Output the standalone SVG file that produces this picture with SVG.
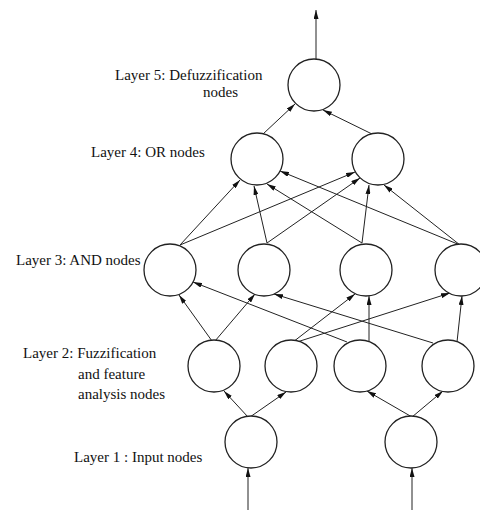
<svg xmlns="http://www.w3.org/2000/svg" width="480" height="510" viewBox="0 0 480 510">
  <style>
    .node { fill: #ffffff; stroke: #222222; stroke-width: 1.3; }
    .edge { fill: none; stroke: #222222; stroke-width: 1; marker-end: url(#arrow); }
    .lbl { font-family: "Liberation Serif", "Times New Roman", serif; font-size: 15px; fill: #111111; }
  </style>
  <defs>
    <marker id="arrow" markerUnits="userSpaceOnUse" markerWidth="9" markerHeight="5" refX="9" refY="2.5" orient="auto">
      <path d="M0,0 L9,2.5 L0,5 z" fill="#111111"/>
    </marker>
  </defs>
  <rect width="480" height="510" fill="#ffffff"/>

  <g id="connectors">
    <!-- output -->
    <line class="edge" x1="316" y1="59" x2="316" y2="10"/>
    <!-- inputs -->
    <line class="edge" x1="248" y1="510" x2="248" y2="468"/>
    <line class="edge" x1="412" y1="510" x2="412" y2="468"/>
    <!-- L4 -> L5 -->
    <line class="edge" x1="263" y1="134" x2="295" y2="104"/>
    <line class="edge" x1="372" y1="134" x2="323" y2="110"/>
    <!-- L3 -> L4 -->
    <line class="edge" x1="180" y1="245" x2="240" y2="180"/>
    <line class="edge" x1="180" y1="245" x2="355" y2="172"/>
    <line class="edge" x1="267" y1="243" x2="254" y2="186"/>
    <line class="edge" x1="267" y1="243" x2="360" y2="178"/>
    <line class="edge" x1="362" y1="243" x2="267" y2="184"/>
    <line class="edge" x1="362" y1="243" x2="369" y2="185"/>
    <line class="edge" x1="460" y1="245" x2="280" y2="171"/>
    <line class="edge" x1="460" y1="245" x2="384" y2="185"/>
    <!-- L2 -> L3 -->
    <line class="edge" x1="212" y1="341" x2="179" y2="295"/>
    <line class="edge" x1="347" y1="342" x2="193" y2="282"/>
    <line class="edge" x1="215" y1="341" x2="255" y2="294"/>
    <line class="edge" x1="433" y1="343" x2="274" y2="294"/>
    <line class="edge" x1="293" y1="342" x2="355" y2="294"/>
    <line class="edge" x1="369" y1="341" x2="369" y2="296"/>
    <line class="edge" x1="297" y1="342" x2="450" y2="293"/>
    <line class="edge" x1="457" y1="342" x2="462" y2="296"/>
    <!-- L1 -> L2 -->
    <line class="edge" x1="248" y1="417" x2="224" y2="391"/>
    <line class="edge" x1="250" y1="417" x2="286" y2="392"/>
    <line class="edge" x1="412" y1="417" x2="367" y2="391"/>
    <line class="edge" x1="412" y1="417" x2="443" y2="391"/>
  </g>

  <g id="layer5">
    <circle id="n5" class="node" cx="314" cy="85" r="26"/>
  </g>
  <g id="layer4">
    <circle id="n4a" class="node" cx="257" cy="159" r="26"/>
    <circle id="n4b" class="node" cx="378" cy="159" r="26"/>
  </g>
  <g id="layer3">
    <circle id="n3a" class="node" cx="170" cy="270" r="26"/>
    <circle id="n3b" class="node" cx="264" cy="270" r="26"/>
    <circle id="n3c" class="node" cx="366" cy="270" r="26"/>
    <circle id="n3d" class="node" cx="461" cy="270" r="26"/>
  </g>
  <g id="layer2">
    <circle id="n2a" class="node" cx="214" cy="366" r="26"/>
    <circle id="n2b" class="node" cx="291" cy="366" r="26"/>
    <circle id="n2c" class="node" cx="360" cy="366" r="26"/>
    <circle id="n2d" class="node" cx="448" cy="366" r="26"/>
  </g>
  <g id="layer1">
    <circle id="n1a" class="node" cx="251" cy="442" r="26"/>
    <circle id="n1b" class="node" cx="411" cy="442" r="26"/>
  </g>

  <g id="labels">
    <text class="lbl" x="115" y="80">Layer 5: Defuzzification</text>
    <text class="lbl" x="203" y="97">nodes</text>
    <text class="lbl" x="91" y="157">Layer 4: OR nodes</text>
    <text class="lbl" x="16" y="265">Layer 3: AND nodes</text>
    <text class="lbl" x="23" y="358">Layer 2: Fuzzification</text>
    <text class="lbl" x="78" y="379">and feature</text>
    <text class="lbl" x="78" y="399">analysis nodes</text>
    <text class="lbl" x="74" y="462">Layer 1 : Input nodes</text>
  </g>
</svg>
